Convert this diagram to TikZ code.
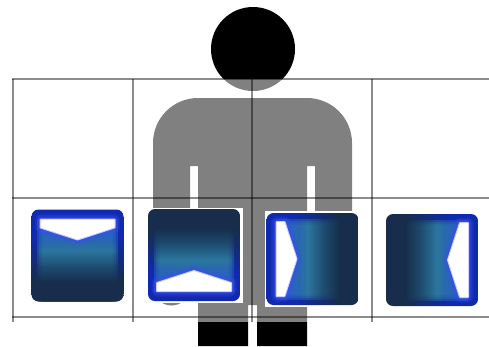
\documentclass[tikz,border=0pt]{standalone}
\usepackage{xcolor}
\definecolor{tilenavy}{HTML}{172D4B}
\definecolor{tileblue}{HTML}{0F2AB0}
\definecolor{tileteal}{HTML}{2F7FA0}
\definecolor{tilemid}{HTML}{1F4F70}
\definecolor{tilesea}{HTML}{2C70B0}
\definecolor{tilesky}{HTML}{2C68C8}
\definecolor{tileglow}{HTML}{3A50F0}
\definecolor{tilehalo}{HTML}{C8C8FF}
\pgfdeclareverticalshading{tileinner}{100bp}{color(0bp)=(tilenavy);color(36bp)=(tilenavy);color(46bp)=(tilemid);color(56bp)=(tileteal);color(61bp)=(tilesea);color(68bp)=(tilesky);color(100bp)=(tilesky)}
\pgfdeclareverticalshading{tileedge}{100bp}{color(0bp)=(tilenavy);color(36bp)=(tilenavy);color(60bp)=(tileblue);color(100bp)=(tileblue)}
\tikzset{gridline/.style={draw=black,opacity=0.45,line width=2.3pt}}
\begin{document}
\begin{tikzpicture}[x=1pt,y=-1pt,
  tileback/.style={fill=white},
  glowline/.style={draw=tileglow,draw opacity=0.22,line join=round}]
\useasboundingbox (0,0) rectangle (489,346);
\fill (253,49) circle[radius=42];
\fill (198,346) -- (198,166) -- (190,166) -- (190,287) arc[start angle=0,end angle=180,radius=18.5]
  -- (153,143) arc[start angle=180,end angle=270,radius=45] -- (307,98)
  arc[start angle=270,end angle=360,radius=45] -- (352,287) arc[start angle=0,end angle=180,radius=18.5]
  -- (315,166) -- (307,166) -- (307,346) -- (257,346) -- (257,305) -- (248,305) -- (248,346) -- cycle;
\fill[white,opacity=0.5] (13,79) rectangle (489,322);
\foreach \gx in {13,133,252,372}
  \draw[gridline] (\gx,79) -- (\gx,322);
\foreach \gy in {79,198,317}
  \draw[gridline] (12,\gy) -- (489,\gy);
\fill[tileback] (147,208) rectangle (243,303);
\fill[tileback] (265,211) rectangle (360,307);
\foreach \tx/\ty/\spin in {77.5/255.5/0,194/255/180,312.5/259/90,432/260/-90}{
  \begin{scope}[shift={(\tx,\ty)},rotate=\spin]
    \clip[rounded corners=7pt] (-46,-46) rectangle (46,46);
    \shade[shading=tileedge,shading angle=\spin] (-46,-46) rectangle (46,46);
    \foreach \inset in {34,36,38,40}
      \shade[shading=tileinner,shading angle=\spin,opacity=0.45] (-\inset,-36) rectangle (\inset,46);
    \foreach \wd in {11,8,6,4}
      \draw[glowline,line width=\wd pt] (-37,-36) -- (37,-36) -- (37,-28) -- (0,-16) -- (-37,-28) -- cycle;
    \draw[tilehalo,line width=2pt,line join=round] (-37,-36) -- (37,-36) -- (37,-28) -- (0,-16) -- (-37,-28) -- cycle;
    \fill[white] (-37,-36) -- (37,-36) -- (37,-28) -- (0,-16) -- (-37,-28) -- cycle;
  \end{scope}
}
\end{tikzpicture}
\end{document}
